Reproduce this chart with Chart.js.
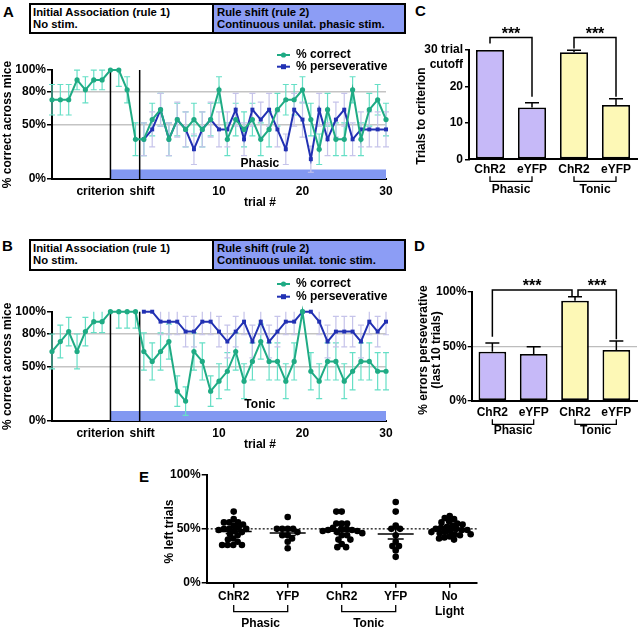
<!DOCTYPE html>
<html><head><meta charset="utf-8">
<script src="https://cdn.jsdelivr.net/npm/chart.js@4.4.1/dist/chart.umd.min.js"></script>
<style>
body{margin:0;background:#fff;width:640px;height:629px;position:relative;overflow:hidden;font-family:'Liberation Sans',Arial,Helvetica,sans-serif;font-weight:bold;color:#000;}
canvas{position:absolute;}
.lab{position:absolute;font-size:15px;line-height:15px;font-weight:bold;}
.box{position:absolute;border:2px solid #000;box-sizing:border-box;display:flex;}
.box div{font-size:11.3px;line-height:11.5px;box-sizing:border-box;white-space:nowrap;}
</style></head>
<body>
<div class="lab" style="left:3px;top:4px">A</div>
<div class="lab" style="left:2px;top:238px">B</div>
<div class="lab" style="left:415px;top:3px">C</div>
<div class="lab" style="left:414px;top:238px">D</div>
<div class="lab" style="left:139px;top:469px">E</div>
<div class="box" style="left:29px;top:3px;width:377px;height:31px">
  <div style="width:183px;border-right:2px solid #000;padding:2px 2px">Initial Association (rule 1)<br>No stim.</div>
  <div style="flex:1;background:#8c9df5;padding:2px 3px">Rule shift (rule 2)<br>Continuous unilat. phasic stim.</div>
</div>
<div class="box" style="left:29px;top:239px;width:377px;height:32px">
  <div style="width:183px;border-right:2px solid #000;padding:2px 2px">Initial Association (rule 1)<br>No stim.</div>
  <div style="flex:1;background:#8c9df5;padding:2px 3px">Rule shift (rule 2)<br>Continuous unilat. tonic stim.</div>
</div>
<canvas id="cA" width="400" height="175" style="left:0;top:40px"></canvas>
<canvas id="cB" width="400" height="185" style="left:0;top:270px"></canvas>
<canvas id="cC" width="240" height="205" style="left:400px;top:0"></canvas>
<canvas id="cD" width="240" height="215" style="left:400px;top:225px"></canvas>
<canvas id="cE" width="380" height="169" style="left:120px;top:460px"></canvas>
<script>
// ---------- DATA ----------
const trials = [-10,-9,-8,-7,-6,-5,-4,-3,-2,-1,0,1,2,3,4,5,6,7,8,9,10,11,12,13,14,15,16,17,18,19,20,21,22,23,24,25,26,27,28,29,30];
const trialTickValues = [10,20,30];
const pctTicksAB = [0,50,80,100];

const phasicCorrect = [72.7,72.7,72.7,90.9,81.8,90.9,90.9,100,100,81.8,36.4,
 36.4,54.5,63.6,36.4,54.5,45.5,54.5,45.5,54.5,81.8,
 36.4,54.5,45.5,54.5,36.4,45.5,63.6,72.7,72.7,81.8,
 54.5,27.3,63.6,36.4,36.4,81.8,36.4,63.6,72.7,54.5];
const phasicCorrectErr = [14,14,14,9,12,9,9,0,15,12,15,
 15,15,15,15,15,16,15,16,15,12,
 15,15,16,15,15,16,15,14,14,12,
 15,14,15,15,15,12,15,15,14,15];
const phasicPersev = [null,null,null,null,null,null,null,null,null,null,null,
 36.4,45.5,63.6,36.4,54.5,45.5,27.3,45.5,54.5,45.5,
 45.5,63.6,36.4,63.6,54.5,63.6,45.5,27.3,63.6,54.5,
 18.2,63.6,36.4,54.5,63.6,36.4,45.5,45.5,45.5,45.5];
const phasicPersevErr = [null,null,null,null,null,null,null,null,null,null,null,
 15,16,15,15,16,16,14,16,16,16,
 16,15,15,15,16,15,16,14,15,16,
 12,15,15,16,15,15,16,16,16,16];

const tonicCorrect = [63.6,72.7,81.8,63.6,81.8,90.9,90.9,100,100,100,100,
 63.6,54.5,63.6,72.7,27.3,18.2,63.6,54.5,27.3,36.4,
 45.5,63.6,36.4,54.5,72.7,54.5,54.5,36.4,54.5,100,
 45.5,36.4,54.5,54.5,36.4,45.5,54.5,54.5,45.5,45.5];
const tonicCorrectErr = [16,15,13,16,13,10,10,0,15,15,15,
 17,17,17,16,14,13,17,17,14,16,
 17,17,16,17,16,17,17,16,17,0,
 17,16,17,17,16,17,17,17,17,17];
const tonicPersev = [null,null,null,null,null,null,null,null,null,null,null,
 100,100,90.9,90.9,90.9,81.8,81.8,90.9,90.9,81.8,
 72.7,81.8,90.9,72.7,90.9,72.7,81.8,90.9,90.9,100,
 100,90.9,72.7,81.8,81.8,81.8,72.7,90.9,81.8,90.9];
const tonicPersevErr = [null,null,null,null,null,null,null,null,null,null,null,
 0,0,12,12,12,14,14,12,12,14,
 15,14,12,15,12,15,14,12,12,0,
 0,12,15,14,14,14,15,12,14,12];

const barLabels = ['ChR2','eYFP','ChR2','eYFP'];
const trialsToCriterion = [30, 14.2, 29.4, 14.9];
const trialsToCriterionErr = [0, 1.3, 0.5, 1.7];
const trialTicksC = [0,10,20,30];
const persevErrors = [45.0, 42.8, 91.7, 46.5];
const persevErrorsErr = [8.0, 6.7, 3.7, 8.3];
const pctTicksDE = [0,50,100];

const leftGroups = ['ChR2','YFP','ChR2','YFP',['No','Light']];
const leftPhasicChR2 = [66,59,56,56,56,54,53,51,50,50,50,49,48,47,45,44,41,40,38,35,35,35,35];
const leftPhasicYFP = [61,50,50,50,50,47,44,44,41,38,32];
const leftTonicChR2 = [66,66,55,55,55,51,50,50,49,49,48,48,47,46,44,44,40,40,36,33,33];
const leftTonicYFP = [75,66,53,50,50,44,38,34,34,30,24];
const leftNoLight = [62,60,59,57,56,55,54,53,52,51,50,50,49,49,48,47,47,46,45,45,44,43,42,41,40];
const chanceLevel = 50;

// ---------- STYLE ----------
const FONT = "'Liberation Sans', Arial, Helvetica, sans-serif";
const GREEN = '#1fab84', GREEN_ERR = '#66dfc6';
const BLUE = '#2231b3', BLUE_ERR = '#c6c4ea';
const STIM = '#8298f1';
const PURPLE = '#c6b9f8', YELLOW = '#fdf8b6';
const CRITERION_TRIAL = -3, SHIFT_TRIAL = 0.5;

Chart.defaults.font.family = FONT;
Chart.defaults.font.size = 12;
Chart.defaults.font.weight = 'bold';
Chart.defaults.color = '#000';
Chart.defaults.animation = false;
Chart.defaults.responsive = false;
Chart.defaults.devicePixelRatio = 1;
Chart.defaults.plugins.legend.display = false;
Chart.defaults.plugins.tooltip.enabled = false;

function drawText(ctx, t) {
  ctx.save();
  ctx.font = 'bold ' + (t.size || 12) + 'px ' + FONT;
  ctx.fillStyle = '#000';
  ctx.textAlign = t.align || 'center';
  ctx.textBaseline = 'middle';
  ctx.translate(t.x, t.y);
  if (t.rot) ctx.rotate(t.rot);
  ctx.fillText(t.text, 0, 0);
  ctx.restore();
}

const errPlugin = {
  id: 'errbars',
  beforeDatasetsDraw(chart) {
    const ctx = chart.ctx, ys = chart.scales.y;
    chart.data.datasets.forEach((ds, di) => {
      if (!ds.errors) return;
      const meta = chart.getDatasetMeta(di);
      ctx.save();
      ctx.strokeStyle = ds.errColor; ctx.lineWidth = ds.errWidth || 1.2;
      meta.data.forEach((el, i) => {
        const raw = ds.data[i];
        const v = (raw !== null && typeof raw === 'object') ? raw.y : raw;
        const e = ds.errors[i];
        if (v == null || !e) return;
        const x = el.x;
        const hiV = ds.upOnly ? v + e : Math.min(ys.max, v + e);
        const loV = ds.upOnly ? v : Math.max(ys.min, v - e);
        const yH = ys.getPixelForValue(hiV), yL = ys.getPixelForValue(loV);
        const cw = ds.capW || 3;
        ctx.beginPath();
        ctx.moveTo(x, yL); ctx.lineTo(x, yH);
        if (hiV === v + e) { ctx.moveTo(x - cw, yH); ctx.lineTo(x + cw, yH); }
        if (!ds.upOnly && loV === v - e) { ctx.moveTo(x - cw, yL); ctx.lineTo(x + cw, yL); }
        ctx.stroke();
      });
      ctx.restore();
    });
  }
};

function makeTrialChart(id, cfg) {
  const decor = {
    id: 'decor',
    beforeDatasetsDraw(chart) {
      const ctx = chart.ctx, xs = chart.scales.x, ys = chart.scales.y;
      ctx.save();
      ctx.fillStyle = STIM;
      const x0 = xs.getPixelForValue(CRITERION_TRIAL), x1 = xs.getPixelForValue(30);
      const yb = ys.getPixelForValue(0), yt = yb - cfg.stimH;
      ctx.fillRect(x0, yt, x1 - x0, yb - yt);
      ctx.strokeStyle = '#000'; ctx.lineWidth = 1.5;
      [CRITERION_TRIAL, SHIFT_TRIAL].forEach(t => {
        const x = xs.getPixelForValue(t);
        ctx.beginPath(); ctx.moveTo(x, ys.getPixelForValue(100)); ctx.lineTo(x, yb); ctx.stroke();
      });
      ctx.restore();
    },
    afterDraw(chart) {
      const ctx = chart.ctx, xs = chart.scales.x, ca = chart.chartArea;
      const midX = xs.getPixelForValue(14.9);
      drawText(ctx, {text: cfg.stimLabel, x: midX, y: ca.bottom - cfg.stimH - 6});
      drawText(ctx, {text: 'trial #', x: midX, y: ca.bottom + 24});
      drawText(ctx, {text: '% correct across mice', x: 8, y: (ca.top + ca.bottom) / 2, rot: -Math.PI / 2});
      const rows = [{t: '% correct', c: GREEN, s: 'circle', y: cfg.legY[0]}, {t: '% perseverative', c: BLUE, s: 'rect', y: cfg.legY[1]}];
      rows.forEach(r => {
        ctx.save();
        ctx.strokeStyle = r.c; ctx.fillStyle = r.c; ctx.lineWidth = 2;
        ctx.beginPath(); ctx.moveTo(277, r.y); ctx.lineTo(290, r.y); ctx.stroke();
        if (r.s === 'circle') { ctx.beginPath(); ctx.arc(283.5, r.y, 2.6, 0, Math.PI * 2); ctx.fill(); }
        else ctx.fillRect(281, r.y - 2.5, 5, 5);
        ctx.restore();
        drawText(ctx, {text: r.t, x: 296, y: r.y, align: 'left'});
      });
    }
  };
  return new Chart(document.getElementById(id), {
    type: 'line',
    data: {
      datasets: [
        {data: trials.map((t, i) => ({x: t, y: cfg.correct[i]})), errors: cfg.correctErr, errColor: GREEN_ERR,
         borderColor: GREEN, backgroundColor: GREEN, pointBackgroundColor: GREEN, pointBorderWidth: 0,
         pointRadius: 2.6, borderWidth: 2, pointStyle: 'circle', clip: false, tension: 0},
        {data: trials.map((t, i) => ({x: t, y: cfg.persev[i]})), errors: cfg.persevErr, errColor: BLUE_ERR,
         borderColor: BLUE, backgroundColor: BLUE, pointBackgroundColor: BLUE, pointBorderWidth: 0,
         pointRadius: 2.8, borderWidth: 2, pointStyle: 'rect', clip: false, tension: 0}
      ]
    },
    options: {
      layout: {padding: {top: cfg.padTop, right: 14, left: 0, bottom: 0}},
      scales: {
        x: {
          type: 'linear', min: -10, max: 30,
          grid: {display: false, drawTicks: false},
          border: {display: true, color: '#000', width: 2},
          afterFit: s => { s.height = cfg.xH; },
          afterBuildTicks: s => { s.ticks = [{value: -4.2}, {value: 0.8}].concat(trialTickValues.map(v => ({value: v}))); },
          ticks: {autoSkip: false, maxRotation: 0, padding: 5.5,
            callback: v => v === -4.2 ? 'criterion' : (v === 0.8 ? 'shift' : String(v))}
        },
        y: {
          min: 0, max: 100,
          afterFit: s => { s.width = 52; },
          afterBuildTicks: s => { s.ticks = pctTicksAB.map(v => ({value: v})); },
          ticks: {padding: 1, autoSkip: false, callback: v => v + '%'},
          grid: {color: c => (c.tick && (c.tick.value === 50 || c.tick.value === 80)) ? '#c4c4c4' : 'rgba(0,0,0,0)',
                 tickColor: '#000', tickLength: 5, lineWidth: 1.5},
          border: {color: '#000', width: 2}
        }
      }
    },
    plugins: [decor, errPlugin]
  });
}

makeTrialChart('cA', {correct: phasicCorrect, correctErr: phasicCorrectErr, persev: phasicPersev, persevErr: phasicPersevErr,
  padTop: 30, xH: 36, stimH: 9.5, stimLabel: 'Phasic', legY: [15, 26.7]});
makeTrialChart('cB', {correct: tonicCorrect, correctErr: tonicCorrectErr, persev: tonicPersev, persevErr: tonicPersevErr,
  padTop: 41.7, xH: 34, stimH: 10, stimLabel: 'Tonic', legY: [14, 26.7]});

function groupPlugin(groups, g) {
  return {
    id: 'groups',
    afterDraw(chart) {
      const ctx = chart.ctx, xs = chart.scales.x, yb = chart.chartArea.bottom;
      ctx.save(); ctx.strokeStyle = '#000'; ctx.lineWidth = 1.3;
      groups.forEach(gr => {
        const x1 = xs.getPixelForValue(gr.i1), x2 = xs.getPixelForValue(gr.i2);
        ctx.beginPath();
        ctx.moveTo(x1, yb + g.v0); ctx.lineTo(x1, yb + g.v1); ctx.lineTo(x2, yb + g.v1); ctx.lineTo(x2, yb + g.v0);
        ctx.stroke();
        drawText(ctx, {text: gr.label, x: (x1 + x2) / 2, y: yb + g.ly});
      });
      ctx.restore();
    }
  };
}
function sigPlugin(items) {
  return {
    id: 'sig',
    afterDatasetsDraw(chart) {
      const ctx = chart.ctx, xs = chart.scales.x, ys = chart.scales.y;
      ctx.save(); ctx.strokeStyle = '#000'; ctx.lineWidth = 1.5;
      items.forEach(b => {
        const x1 = xs.getPixelForValue(b.i1) + (b.dx1 || 0), x2 = xs.getPixelForValue(b.i2) + (b.dx2 || 0);
        const yh = ys.getPixelForValue(b.h), y1 = ys.getPixelForValue(b.y1), y2 = ys.getPixelForValue(b.y2);
        ctx.beginPath(); ctx.moveTo(x1, y1); ctx.lineTo(x1, yh); ctx.lineTo(x2, yh); ctx.lineTo(x2, y2); ctx.stroke();
        ctx.font = 'bold 16px ' + FONT; ctx.fillStyle = '#000'; ctx.textAlign = 'center'; ctx.textBaseline = 'alphabetic';
        ctx.fillText('***', (x1 + x2) / 2, yh + 1.5);
      });
      ctx.restore();
    }
  };
}
const phasicTonicGroups = [{i1: 0, i2: 1, label: 'Phasic'}, {i1: 2, i2: 3, label: 'Tonic'}];

// ---------- C ----------
new Chart(document.getElementById('cC'), {
  type: 'bar',
  data: {labels: barLabels, datasets: [{data: trialsToCriterion, errors: trialsToCriterionErr, errColor: '#000', errWidth: 1.5, upOnly: true, capW: 7,
    backgroundColor: [PURPLE, PURPLE, YELLOW, YELLOW], borderColor: '#000', borderWidth: 1.8, borderSkipped: false,
    categoryPercentage: 1, barPercentage: 0.67}]},
  options: {
    layout: {padding: {top: 50, right: 3, left: 0, bottom: 0}},
    scales: {
      x: {grid: {display: false, drawTicks: false}, border: {display: true, color: '#000', width: 2},
          afterFit: s => { s.height = 45.7; }, ticks: {padding: 3.5, maxRotation: 0, autoSkip: false}},
      y: {min: 0, max: 30, afterFit: s => { s.width = 69; },
          afterBuildTicks: s => { s.ticks = trialTicksC.map(v => ({value: v})); },
          ticks: {padding: 2, autoSkip: false, callback: v => v === 30 ? ['', '30 trial', 'cutoff'] : String(v)},
          grid: {color: 'rgba(0,0,0,0)', tickColor: '#000', tickLength: 4, lineWidth: 1.5},
          border: {color: '#000', width: 2}}
    }
  },
  plugins: [errPlugin,
    sigPlugin([{i1: 0, i2: 1, h: 33.4, y1: 31.8, y2: 17.2}, {i1: 2, i2: 3, h: 33.4, y1: 30.4, y2: 17.2}]),
    groupPlugin(phasicTonicGroups, {v0: 17, v1: 22, ly: 30}),
    {id: 'ctitle', afterDraw(chart) {
      drawText(chart.ctx, {text: 'Trials to criterion', x: 21.7, y: 116, rot: -Math.PI / 2}); }}]
});

// ---------- D ----------
new Chart(document.getElementById('cD'), {
  type: 'bar',
  data: {labels: barLabels, datasets: [{data: persevErrors, errors: persevErrorsErr, errColor: '#000', errWidth: 1.5, upOnly: true, capW: 7,
    backgroundColor: [PURPLE, PURPLE, YELLOW, YELLOW], borderColor: '#000', borderWidth: 1.8, borderSkipped: false,
    categoryPercentage: 1, barPercentage: 0.67}]},
  options: {
    layout: {padding: {top: 66.7, right: 3, left: 0, bottom: 0}},
    scales: {
      x: {grid: {display: false, drawTicks: false}, border: {display: true, color: '#000', width: 2},
          afterFit: s => { s.height = 39.3; }, ticks: {padding: 5, maxRotation: 0, autoSkip: false}},
      y: {min: 0, max: 100, afterFit: s => { s.width = 71.7; },
          afterBuildTicks: s => { s.ticks = pctTicksDE.map(v => ({value: v})); },
          ticks: {padding: 1, autoSkip: false, callback: v => v + '%'},
          grid: {color: c => (c.tick && c.tick.value === 50) ? '#bdbdbd' : 'rgba(0,0,0,0)', tickColor: '#000', tickLength: 4, lineWidth: 1.3},
          border: {color: '#000', width: 2}}
    }
  },
  plugins: [errPlugin,
    sigPlugin([{i1: 0, i2: 2, dx2: -3, h: 101.6, y1: 58.7, y2: 96}, {i1: 2, i2: 3, dx1: 3, h: 101.6, y1: 96, y2: 56.3}]),
    groupPlugin(phasicTonicGroups, {v0: 18.6, v1: 23.6, ly: 30.3}),
    {id: 'dtitle', afterDraw(chart) {
      drawText(chart.ctx, {text: '% errors perseverative', x: 23.3, y: 125, rot: -Math.PI / 2});
      drawText(chart.ctx, {text: '(last 10 trials)', x: 37, y: 125, rot: -Math.PI / 2}); }}]
});

// ---------- E ----------
function swarmOffsets(vals, pxY, pxX, r) {
  const d = 2 * r;
  const idx = vals.map((_, i) => i).sort((a, b) => vals[b] - vals[a]);
  const placed = [], out = new Array(vals.length).fill(0);
  idx.forEach(i => {
    const y = vals[i] * pxY, blocks = [];
    placed.forEach(p => { const dy = Math.abs(p.y - y); if (dy < d) { const w = Math.sqrt(d * d - dy * dy); blocks.push([p.x - w, p.x + w]); } });
    const cands = [0]; blocks.forEach(b => { cands.push(b[0] - 0.01, b[1] + 0.01); });
    cands.sort((a, b) => Math.abs(a) - Math.abs(b));
    let x = 0;
    for (const c of cands) { if (blocks.every(b => c <= b[0] || c >= b[1])) { x = c; break; } }
    placed.push({x, y}); out[i] = x / pxX;
  });
  return out;
}
const leftData = [leftPhasicChR2, leftPhasicYFP, leftTonicChR2, leftTonicYFP, leftNoLight];
const ePoints = [];
leftData.forEach((vals, g) => { const offs = swarmOffsets(vals, 1.077, 54, 2.7); vals.forEach((v, i) => ePoints.push({x: g + offs[i], y: v})); });

new Chart(document.getElementById('cE'), {
  type: 'scatter',
  data: {datasets: [{data: ePoints, pointRadius: 3.3, pointBackgroundColor: '#000', pointBorderWidth: 0, backgroundColor: '#000'}]},
  options: {
    layout: {padding: {top: 15, right: 23.3, left: 0, bottom: 0}},
    scales: {
      x: {type: 'linear', min: -0.5, max: 4.5,
          grid: {drawOnChartArea: false, color: '#000', tickColor: '#000', tickLength: 5, lineWidth: 1.5},
          border: {display: true, color: '#000', width: 2},
          afterFit: s => { s.height = 46.3; },
          afterBuildTicks: s => { s.ticks = leftGroups.map((_, i) => ({value: i})); },
          ticks: {padding: 2, maxRotation: 0, autoSkip: false, callback: v => leftGroups[v]}},
      y: {min: 0, max: 100, afterFit: s => { s.width = 86.7; },
          afterBuildTicks: s => { s.ticks = pctTicksDE.map(v => ({value: v})); },
          ticks: {padding: 1, autoSkip: false, callback: v => v + '%'},
          grid: {drawOnChartArea: false, color: '#000', tickColor: '#000', tickLength: 5, lineWidth: 1.5},
          border: {color: '#000', width: 2}}
    }
  },
  plugins: [
    {id: 'chance', beforeDatasetsDraw(chart) {
      const ctx = chart.ctx, ys = chart.scales.y, ca = chart.chartArea, y = ys.getPixelForValue(chanceLevel);
      ctx.save(); ctx.strokeStyle = '#000'; ctx.lineWidth = 1.2; ctx.setLineDash([2, 2]);
      ctx.beginPath(); ctx.moveTo(ca.left, y); ctx.lineTo(ca.right, y); ctx.stroke(); ctx.restore(); }},
    {id: 'means', afterDatasetsDraw(chart) {
      const ctx = chart.ctx, xs = chart.scales.x, ys = chart.scales.y;
      ctx.save(); ctx.strokeStyle = '#000'; ctx.lineWidth = 1.6;
      leftData.forEach((vals, g) => {
        const n = vals.length, m = vals.reduce((a, b) => a + b, 0) / n;
        const sd = Math.sqrt(vals.reduce((a, b) => a + (b - m) * (b - m), 0) / (n - 1)), sem = sd / Math.sqrt(n);
        const x = xs.getPixelForValue(g), ym = ys.getPixelForValue(m), yh = ys.getPixelForValue(m + sem), yl = ys.getPixelForValue(m - sem);
        ctx.beginPath();
        ctx.moveTo(x - 18, ym); ctx.lineTo(x + 18, ym);
        ctx.moveTo(x, yl); ctx.lineTo(x, yh);
        ctx.moveTo(x - 8, yh); ctx.lineTo(x + 8, yh);
        ctx.moveTo(x - 8, yl); ctx.lineTo(x + 8, yl);
        ctx.stroke();
      });
      ctx.restore(); }},
    groupPlugin(phasicTonicGroups, {v0: 22.3, v1: 29, ly: 40.6}),
    {id: 'etitle', afterDraw(chart) {
      drawText(chart.ctx, {text: '% left trials', x: 50, y: 71.5, rot: -Math.PI / 2}); }}
  ]
});
</script>
</body></html>
